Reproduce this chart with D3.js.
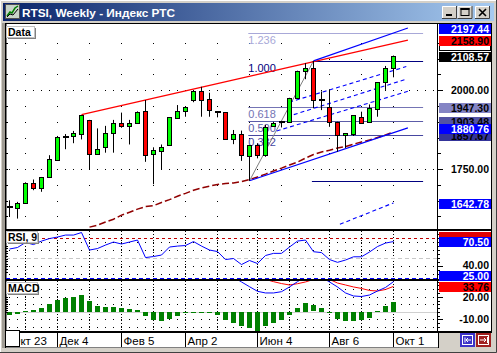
<!DOCTYPE html>
<html>
<head>
<meta charset="utf-8">
<script src="https://cdn.jsdelivr.net/npm/d3@7"></script>
<style>
    body{margin:0;background:#d4d0c8;font-family:"Liberation Sans",Arial,sans-serif;}
</style>
</head>
<body>
<div id="chart"></div>
<script>
    // weekly RTSI candles, Oct 23 .. Oct 1
    var opens  = [1630,1625,1644,1706,1689,1724,1778,1852,1854,1861,1905,1797,1818,1863,1895,1887,1898,1935,1797,1809,1825,1914,1932,1971,1999,1971,1932,1930,1844,1860,1792,1826,1794,1887,1900,1900,1975,2059,2070,1969,1948,1900,1856,1860,1916,1898,1940,2025,2070]
    var highs  = [1651,1646,1708,1717,1725,1794,1855,1861,1871,1921,1906,1879,1887,1906,1929,1906,1933,1969,1819,1828,1914,1953,1950,1999,2011,1992,1932,1931,1874,1872,1826,1832,1890,1900,1900,1976,2062,2086,2093,1996,2003,1900,1863,1921,1932,1955,2026,2077,2110]
    var lows   = [1598,1593,1642,1683,1678,1723,1777,1813,1832,1844,1749,1797,1802,1802,1881,1828,1895,1773,1702,1749,1825,1911,1916,1962,1916,1916,1914,1843,1829,1776,1713,1784,1789,1885,1882,1899,1974,2035,1943,1937,1884,1805,1817,1855,1898,1898,1916,2001,2041]
    var closes = [1631,1641,1706,1689,1724,1781,1851,1853,1863,1921,1797,1813,1863,1895,1887,1895,1932,1797,1809,1821,1914,1935,1946,1999,1971,1935,1931,1844,1860,1792,1826,1794,1882,1895,1899,1975,2061,2070,1967,1970,1900,1860,1863,1921,1898,1943,2025,2070,2108.57]

    var movAvg = [null,null,null,null,null,null,null,null,null,null,1566,1572,1582,1591,1604,1613,1623,1631,1634,1644,1653,1664,1673,1683,1690,1696,1701,1704,1706,1710,1717,1725,1734,1744,1753,1763,1772,1785,1796,1804,1810,1817,1821,1829,1836,1842,1850,1858,1868]

    var rsi = [61.1,63.0,69.3,66.7,71.1,74.3,76.2,78.7,78.7,81.9,59.8,61.7,66.1,69.9,67.4,69.9,72.4,50.3,51.6,53.5,63.6,64.8,65.5,70.5,64.8,59.8,57.9,47.8,49.1,41.5,46.6,42.8,52.9,55.6,55.6,63.6,71.1,72.4,57.7,56.6,47.8,44.3,47.2,51.3,51.3,57.3,64.2,68.6,70.5]

    var macdHist = [-4.5,-3,0.5,2.5,5.5,10,15.6,18.6,20,22.4,14.4,7.8,6.5,6.5,4.7,3.4,2.5,-5,-10.8,-12.3,-9,-5,0.3,0.3,0.2,0.3,-3.5,-10,-15,-18,-21,-25,-18.5,-14.5,-10,-3.5,5.5,11.5,8.6,5.5,0.3,-9,-12,-11.5,-10,-8,0.5,7.5,12.8]
    var macdLine = [null,null,null,null,null,null,null,null,null,null,null,null,null,null,null,null,null,null,null,null,null,null,null,null,null,null,null,null,46,39.6,33.3,27.2,25,25,26.7,33,40,47,null,46,39.6,33,25,21,20.3,22.3,27.6,32.3,40]
    var macdSignal = [null,null,null,null,null,null,null,null,null,null,null,null,null,null,null,null,null,null,null,null,null,null,null,null,null,null,null,null,null,null,null,null,43,40,37.5,35.6,37.3,39.6,43,null,43,38.2,35.6,33,31,28.3,27.6,29.6,33.76]

    // drawn lines, as [bar, price]
    var resistance = [[9,1923],[49.8,2158.9]]
    var channelLow = [[30,1713],[49.8,1880.76]]
    var channelHigh = [[38,2093],[49.8,2197.44]]
    var channelInner = [[[34.96,1962],[49.6,2075]],[[34.7,1916],[49.6,2035]],[[33.4,1871],[50.1,1999]]]
    var lowerDash = [[41.3,1575],[48,1642.78]]
    var fibLow = [30,1713]
    var fibHigh = [38,2093]
    var fibLevels = [0,0.382,0.5,0.618,1,1.236]
    var fibEnd = 51.7

    var priceRows = d3.range(1600,2151,50)
    var priceTicks = [2000,1750]
    var priceLabels = [2158.90,2197.44,2108.57,1947.30,1903.48,1857.67,1880.76,1642.78]
    var rsiTicks = [40]
    var rsiBands = [75,50,25]
    var rsiLabels = [70.50,25.00]
    var macdTicks = [20,-10]
    var macdLabels = [33.76]

    var monthBars = [2,6,10,14,18,22,26,30,34,40,44,48]
    var subBars = [2,6,10,14,18,22,26,31,35,40,44,48]
    var dateBars = [0,6,14,22,31,40,48]
    var dateLabels = ["Окт 23","Дек 4","Фев 5","Апр 2","Июн 4","Авг 6","Окт 1"]

    var font = "'Liberation Sans', Arial, sans-serif"

    var x = d3.scaleLinear().domain([0,48]).range([9.5,393.5])
    var yP = d3.scaleLinear().domain([1560,2210]).range([229,24])
    var yR = d3.scaleLinear().domain([20,90]).range([281.6,226.1])
    var yM = d3.scaleLinear().domain([-30,45]).range([334.4,277.9])

    var svg = d3.select("#chart").append("svg").attr("width",497).attr("height",353)
        .style("font-family",font)

    var defs = svg.append("defs")
    var grad = defs.append("linearGradient").attr("id","tb")
    grad.append("stop").attr("offset","0%").attr("stop-color","#0a246a")
    grad.append("stop").attr("offset","100%").attr("stop-color","#a6caf0")
    defs.append("clipPath").attr("id","cMain").append("rect").attr("x",6).attr("y",24).attr("width",431).attr("height",205)
    defs.append("clipPath").attr("id","cRsi").append("rect").attr("x",6).attr("y",231).attr("width",431).attr("height",48)
    defs.append("clipPath").attr("id","cMacd").append("rect").attr("x",6).attr("y",281).attr("width",431).attr("height",50.5)

    // window frame
    svg.append("rect").attr("width",497).attr("height",353).attr("fill","#d4d0c8")
    svg.append("path").attr("d","M0.5,352 V0.5 H496").attr("stroke","#fff").attr("fill","none")
    svg.append("path").attr("d","M496.5,0 V352.5 H0").attr("stroke","#404040").attr("fill","none")
    svg.append("rect").attr("x",3).attr("y",3).attr("width",491).attr("height",18).attr("fill","url(#tb)")

    // title icon
    svg.append("rect").attr("x",5.5).attr("y",4.5).attr("width",14).attr("height",14).attr("fill","#c8d4c8").attr("stroke","#505050")
    svg.append("path").attr("d","M7,16 L10,12 L12,13 L15,8 L18,6").attr("stroke","#008000").attr("stroke-width",1.5).attr("fill","none")
    svg.append("path").attr("d","M7,17 L10,14 L13,15 L18,9").attr("stroke","#000").attr("fill","none")

    svg.append("text").attr("x",22).attr("y",17).attr("fill","#fff").attr("font-weight","bold")
        .attr("font-size",11.8).text("RTSI, Weekly - Индекс РТС")

    function winButton(x0,kind){
        svg.append("rect").attr("x",x0).attr("y",6).attr("width",15).attr("height",13).attr("fill","#d4d0c8")
        svg.append("path").attr("d","M"+(x0+0.5)+",18.5 V6.5 H"+(x0+14.5)).attr("stroke","#fff").attr("fill","none")
        svg.append("path").attr("d","M"+(x0+14.5)+",6 V18.5 H"+x0).attr("stroke","#404040").attr("fill","none")
        if(kind=="min"){
            svg.append("rect").attr("x",x0+4).attr("y",14).attr("width",6).attr("height",2).attr("fill","#000")
        }
        else if(kind=="max"){
            svg.append("rect").attr("x",x0+3.5).attr("y",8.5).attr("width",8).attr("height",7).attr("fill","none").attr("stroke","#000")
            svg.append("rect").attr("x",x0+3).attr("y",8).attr("width",9).attr("height",2).attr("fill","#000")
        }
        else{
            svg.append("path").attr("d","M"+(x0+4)+",9 L"+(x0+11)+",16 M"+(x0+11)+",9 L"+(x0+4)+",16")
                .attr("stroke","#000").attr("stroke-width",1.6)
        }
    }
    winButton(442,"min")
    winButton(457.5,"max")
    winButton(475,"close")

    // chart surface
    svg.append("rect").attr("x",6).attr("y",24).attr("width",485.5).attr("height",308).attr("fill","#fff")
    svg.append("rect").attr("x",20).attr("y",333).attr("width",419).attr("height",14).attr("fill","#fff")
    svg.append("rect").attr("x",2).attr("y",23).attr("width",3).attr("height",325).attr("fill","#a09c94")
    svg.append("rect").attr("x",5).attr("y",23).attr("width",1.5).attr("height",325).attr("fill","#000")
    svg.append("line").attr("x1",5).attr("x2",492).attr("y1",23.5).attr("y2",23.5).attr("stroke","#000")
    svg.append("line").attr("x1",491.5).attr("x2",491.5).attr("y1",23).attr("y2",333).attr("stroke","#000")
    svg.append("line").attr("x1",437.5).attr("x2",437.5).attr("y1",24).attr("y2",333).attr("stroke","#000")
    svg.append("line").attr("x1",20).attr("x2",439).attr("y1",347.5).attr("y2",347.5).attr("stroke","#808080")
    svg.append("line").attr("x1",438.5).attr("x2",438.5).attr("y1",333).attr("y2",348).attr("stroke","#000")

    function dotRow(g,yy,x1,x2){
        g.append("line").attr("x1",x1).attr("x2",x2).attr("y1",Math.round(yy)+0.5).attr("y2",Math.round(yy)+0.5)
            .attr("stroke","#000").attr("stroke-dasharray","1,7")
    }

    // ---------- main price panel ----------
    var gMain = svg.append("g").attr("clip-path","url(#cMain)")

    priceRows.forEach(function(v){
        if(priceTicks.indexOf(v)>=0){
            dotRow(gMain,yP(v),9,437)
        }
        else{
            monthBars.forEach(function(b){
                gMain.append("rect").attr("x",Math.floor(x(b))).attr("y",Math.round(yP(v))).attr("width",1).attr("height",1).attr("fill","#000")
            })
        }
        svg.append("line").attr("x1",6).attr("x2",8).attr("y1",Math.round(yP(v))+0.5).attr("y2",Math.round(yP(v))+0.5).attr("stroke","#000")
        svg.append("line").attr("x1",437).attr("x2",priceTicks.indexOf(v)>=0?443:441).attr("y1",Math.round(yP(v))+0.5).attr("y2",Math.round(yP(v))+0.5).attr("stroke","#000")
    })

    var segLine = d3.line().x(function(d){return x(d[0])}).y(function(d){return yP(d[1])})

    function seg(pts,color,width,dash){
        var p = gMain.append("path").attr("d",segLine(pts)).attr("stroke",color).attr("stroke-width",width).attr("fill","none")
        if(dash){p.attr("stroke-dasharray",dash)}
        return p
    }

    // moving average
    gMain.append("path")
        .attr("d",d3.line().defined(function(d){return d!=null}).x(function(d,i){return x(i)}).y(function(d){return yP(d)})(movAvg))
        .attr("fill","none").attr("stroke","#900000").attr("stroke-width",1.5).attr("stroke-dasharray","7,3")

    // fibonacci retracement
    var fibColors = {"0":"#000080","0.382":"#4646a0","0.5":"#5c5ca8","0.618":"#7474b4","1":"#000080","1.236":"#a8a8d8"}
    fibLevels.forEach(function(f){
        var v = fibLow[1]+f*(fibHigh[1]-fibLow[1])
        var start = (f==0||f==1) ? fibHigh[0]-0.2 : fibLow[0]-0.15
        var yy = Math.round(yP(v))+0.5
        gMain.append("line").attr("x1",x(start)).attr("x2",x(fibEnd)).attr("y1",yy).attr("y2",yy)
            .attr("stroke",fibColors[String(f)]).attr("stroke-width",1.2)
        if(f!=0){
            gMain.append("text").attr("x",x(fibLow[0]-0.15)).attr("y",yy+10).attr("font-size",11)
                .attr("fill",fibColors[String(f)]).text(f.toFixed(3))
        }
    })

    seg([fibLow,fibHigh],"#808080",1)
    seg(resistance,"#ff0000",1.3)
    seg(channelLow,"#0000ff",1.2)
    seg(channelHigh,"#0000ff",1.2)
    channelInner.forEach(function(c){ seg(c,"#0000ff",1.1,"4,3") })
    seg(lowerDash,"#0000ff",1.1,"4,3")

    // candles
    var bars = d3.range(closes.length)
    bars.forEach(function(i){
        var cx = x(i)
        gMain.append("line").attr("x1",cx).attr("x2",cx).attr("y1",yP(highs[i])).attr("y2",yP(lows[i])).attr("stroke","#000")
    })
    bars.forEach(function(i){
        var cx = x(i)
        var yo = yP(opens[i]), yc = yP(closes[i])
        if(Math.abs(yo-yc)<1.2){
            gMain.append("rect").attr("x",cx-2.5).attr("y",Math.round(yc)-1).attr("width",6).attr("height",2).attr("fill","#000")
        }
        else{
            var top = Math.round(Math.min(yo,yc))+0.5
            var h = Math.max(1,Math.round(Math.abs(yo-yc)))
            gMain.append("rect").attr("x",cx-2).attr("y",top).attr("width",4).attr("height",h)
                .attr("fill",closes[i]>opens[i]?"#00ff00":"#ff0000").attr("stroke","#000")
        }
    })

    // price labels on the right
    function valueBox(yc,value,bg,fg,showText){
        var yy = Math.round(yc)
        svg.append("rect").attr("x",439).attr("y",yy-5).attr("width",52).attr("height",10).attr("fill",bg)
        if(showText!==false){
            svg.append("text").attr("x",489).attr("y",yy+4).attr("text-anchor","end").attr("font-size",10.5)
                .attr("font-weight","bold").attr("fill",fg).text(value.toFixed(2))
        }
    }
    priceTicks.forEach(function(v){
        svg.append("text").attr("x",489).attr("y",Math.round(yP(v))+4).attr("text-anchor","end")
            .attr("font-size",10.5).attr("font-weight","bold").attr("fill","#000").text(v.toFixed(2))
    })
    var priceBoxStyle = [["#ff0000","#000"],["#0000ff","#fff"],["#000","#fff"],["#8484c4","#000"],["#5454a4","#000"],["#34349a","#000"],["#0000ff","#fff"],["#0000ff","#fff"]]
    // small hidden label box under the red one
    svg.append("rect").attr("x",439.5).attr("y",Math.round(yP(priceLabels[0]))+4.5).attr("width",51).attr("height",6).attr("fill","#fff").attr("stroke","#000")
    priceLabels.forEach(function(v,k){
        valueBox(yP(v)+1,v,priceBoxStyle[k][0],priceBoxStyle[k][1])
    })

    // ---------- RSI panel ----------
    var gRsi = svg.append("g").attr("clip-path","url(#cRsi)")
    ;[30,40,60,70].forEach(function(v){ dotRow(gRsi,yR(v),9,437) })
    subBars.forEach(function(b){
        gRsi.append("line").attr("x1",x(b)).attr("x2",x(b)).attr("y1",231).attr("y2",279).attr("stroke","#000").attr("stroke-dasharray","1,2")
    })
    var bandStyle = {"75":["#c00000","3,3"],"50":["#c8c8c8","4,3"],"25":["#0000ff","4,3"]}
    rsiBands.forEach(function(v){
        var yy = Math.round(yR(v))+0.5
        gRsi.append("line").attr("x1",6).attr("x2",437).attr("y1",yy).attr("y2",yy)
            .attr("stroke",bandStyle[String(v)][0]).attr("stroke-dasharray",bandStyle[String(v)][1]).attr("stroke-width",1.2)
    })
    gRsi.append("path").attr("d",d3.line().x(function(d,i){return x(i)}).y(function(d){return yR(d)})(rsi))
        .attr("fill","none").attr("stroke","#0000ff")
    d3.range(32.5,68,3.3).forEach(function(v){
        svg.append("line").attr("x1",6).attr("x2",8).attr("y1",Math.round(yR(v))+0.5).attr("y2",Math.round(yR(v))+0.5).attr("stroke","#000")
    })
    d3.range(30,86,5).forEach(function(v){
        svg.append("line").attr("x1",437).attr("x2",v==40?443:440).attr("y1",Math.round(yR(v))+0.5).attr("y2",Math.round(yR(v))+0.5).attr("stroke","#000")
    })
    rsiTicks.forEach(function(v){
        svg.append("text").attr("x",489).attr("y",Math.round(yR(v))+3).attr("text-anchor","end")
            .attr("font-size",10.5).attr("font-weight","bold").text(v.toFixed(2))
    })

    // ---------- MACD panel ----------
    var gMacd = svg.append("g").attr("clip-path","url(#cMacd)")
    ;[30,20,10,-10,-20].forEach(function(v){ dotRow(gMacd,yM(v),9,437) })
    subBars.forEach(function(b){
        gMacd.append("line").attr("x1",x(b)).attr("x2",x(b)).attr("y1",281).attr("y2",331).attr("stroke","#000").attr("stroke-dasharray","1,2")
    })
    gMacd.append("line").attr("x1",6).attr("x2",437).attr("y1",Math.round(yM(0))+0.5).attr("y2",Math.round(yM(0))+0.5).attr("stroke","#d0d0d0")
    gMacd.selectAll("rect.h").data(macdHist).enter().append("rect")
        .attr("x",function(d,i){return x(i)-2.5})
        .attr("width",5)
        .attr("y",function(d){return d>=0 ? Math.round(yM(d)) : Math.round(yM(0))})
        .attr("height",function(d){return Math.max(1,Math.round(Math.abs(yM(d)-yM(0))))})
        .attr("fill","#008000")
    var mLine = d3.line().defined(function(d){return d!=null}).x(function(d,i){return x(i)}).y(function(d){return yM(d)})
    gMacd.append("path").attr("d",mLine(macdSignal)).attr("fill","none").attr("stroke","#ff0000")
    gMacd.append("path").attr("d",mLine(macdLine)).attr("fill","none").attr("stroke","#0000ff")
    d3.range(0,22,2.5).forEach(function(v){
        svg.append("line").attr("x1",6).attr("x2",8).attr("y1",Math.round(yM(v))+0.5).attr("y2",Math.round(yM(v))+0.5).attr("stroke","#000")
    })
    d3.range(-25,41,5).forEach(function(v){
        svg.append("line").attr("x1",437).attr("x2",(v==20||v==-10)?443:440).attr("y1",Math.round(yM(v))+0.5).attr("y2",Math.round(yM(v))+0.5).attr("stroke","#000")
    })
    macdTicks.forEach(function(v){
        svg.append("text").attr("x",489).attr("y",Math.round(yM(v))+3.5).attr("text-anchor","end")
            .attr("font-size",10.5).attr("font-weight","bold").text(v.toFixed(2))
    })

    // panel separators
    ;[229,279,331].forEach(function(yy){
        svg.append("rect").attr("x",5).attr("y",yy).attr("width",487).attr("height",2).attr("fill","#000")
    })

    // value boxes of the lower panels sit over the separators
    valueBox(yR(rsiBands[0])-1,rsiBands[0],"#e00000","#000",false)
    rsiLabels.forEach(function(v){
        valueBox(Math.min(yR(v),276),v,"#0000ff","#fff")
    })
    macdLabels.forEach(function(v){
        valueBox(yM(v)+0.6,v,"#ff0000","#000")
    })

    // panel tags
    function tag(x0,y0,w,txt){
        svg.append("rect").attr("x",x0+2).attr("y",y0+2).attr("width",w).attr("height",11).attr("fill","#808080")
        svg.append("rect").attr("x",x0+0.5).attr("y",y0+0.5).attr("width",w).attr("height",11).attr("fill","#fff").attr("stroke","#c0c0c0")
        svg.append("text").attr("x",x0+2).attr("y",y0+9.5).attr("font-size",10.5).attr("font-weight","bold").text(txt)
    }
    tag(6,26,28,"Data")
    tag(6,231,31,"RSI, 9")
    tag(6,282,31,"MACD")

    // date axis
    dateBars.forEach(function(b,k){
        svg.append("line").attr("x1",x(b)).attr("x2",x(b)).attr("y1",333).attr("y2",347).attr("stroke","#000")
        svg.append("text").attr("x",x(b)+2).attr("y",345).attr("font-size",11.5).text(dateLabels[k])
    })
    svg.append("rect").attr("x",5.5).attr("y",330.5).attr("width",14).attr("height",16).attr("fill","#fff").attr("stroke","#000")
    svg.append("line").attr("x1",6).attr("x2",20).attr("y1",347.5).attr("y2",347.5).attr("stroke","#808080")

    // scroll buttons bottom right
    svg.append("rect").attr("x",460).attr("y",333).attr("width",15).attr("height",14).attr("fill","#3c32c8")
    svg.append("rect").attr("x",462.5).attr("y",335.5).attr("width",10).attr("height",9).attr("fill","none").attr("stroke","#fff")
    svg.append("path").attr("d","M465,337.5 V342.5 M471,340 H466 M468,338 L466,340 L468,342").attr("stroke","#fff").attr("fill","none")
    svg.append("rect").attr("x",476).attr("y",333).attr("width",15).attr("height",14).attr("fill","#a02020")
    svg.append("rect").attr("x",478.5).attr("y",335.5).attr("width",10).attr("height",9).attr("fill","none").attr("stroke","#fff")
    svg.append("path").attr("d","M480,340 H486 M484,338 L486,340 L484,342 M487.5,337 V343").attr("stroke","#fff").attr("fill","none")
</script>
</body>
</html>
